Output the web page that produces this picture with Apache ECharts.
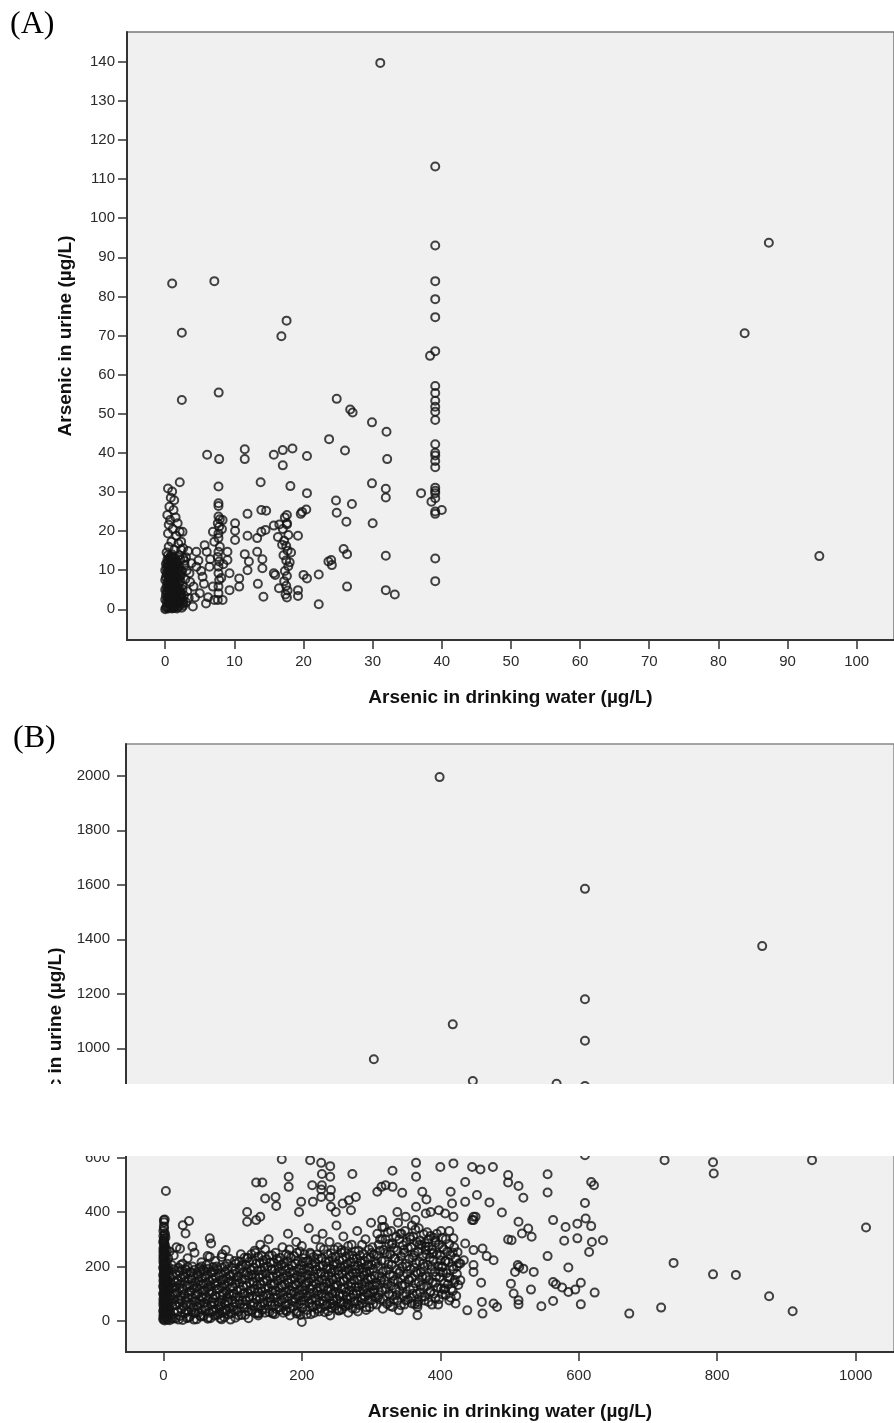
<!DOCTYPE html>
<html><head><meta charset="utf-8">
<script src="https://cdn.jsdelivr.net/npm/echarts@6/dist/echarts.min.js"></script>
<style>html,body{margin:0;padding:0;background:#fff}#c{width:894px;height:1423px}</style>
</head><body><div id="c"></div>
<script>
// ---------- tick labels ----------
const aXTicks = [0,10,20,30,40,50,60,70,80,90,100];
const aYTicks = [0,10,20,30,40,50,60,70,80,90,100,110,120,130,140];
const bXTicks = [0,200,400,600,800,1000];
const bYTicks = [0,200,400,600,800,1000,1200,1400,1600,1800,2000];
const xTitle = 'Arsenic in drinking water (µg/L)';
const yTitle = 'Arsenic in urine (µg/L)';

// ---------- Panel A (x: water, y: urine) ----------
const aOutliers = [[31.1,139.7],[87.3,93.7],[83.8,70.6],[94.6,13.6],[1.0,83.3],[7.1,83.9],[2.4,70.7],[17.55,73.8],[16.8,69.8],[2.4,53.5],[7.73,55.4],[38.3,64.8]];
const aCol39 = [[39.05,113.2],[39.05,93.0],[39.05,83.9],[39.05,79.3],[39.05,74.7],[39.05,66.0],[39.05,57.1],[39.05,55.3],[39.05,53.3],[39.05,51.8],[39.05,50.5],[39.05,48.4],[39.05,42.2],[39.05,40.0],[39.05,39.3],[39.05,37.9],[39.05,36.3],[39.05,31.1],[39.05,30.3],[39.05,29.7],[39.05,28.4],[39.05,25.0],[39.05,24.4],[39.05,13.0],[39.05,7.2],[37.0,29.7],[40.0,25.4],[38.5,27.5]];
const aMid = [[24.8,53.8],[26.75,51.1],[27.1,50.3],[29.9,47.8],[32.0,45.4],[23.7,43.5],[26.0,40.6],[32.1,38.4],[6.06,39.5],[7.8,38.4],[11.5,40.9],[11.5,38.4],[15.7,39.5],[17.0,40.7],[18.4,41.1],[17.0,36.8],[20.5,39.2],[2.1,32.5],[7.7,31.4],[13.8,32.5],[18.1,31.5],[20.5,29.7],[29.9,32.2],[31.9,30.8],[31.9,28.6],[24.7,27.8],[27.0,26.9],[24.8,24.7],[26.2,22.4],[30.0,22.0],[31.9,13.7],[26.3,5.8],[31.9,4.9],[33.2,3.8],[22.2,1.3],[25.8,15.4],[26.3,14.1],[24.0,12.6],[23.6,12.2],[24.1,11.3],[22.2,8.9],[20.0,8.8],[20.5,7.9],[19.6,24.4],[19.8,24.9],[20.4,25.5],[19.2,18.8],[11.9,24.4],[13.9,25.4],[14.6,25.2],[10.1,22.0],[10.1,20.1],[10.1,17.7],[11.9,18.8],[13.3,18.2],[13.9,19.8],[14.5,20.3],[15.7,21.4],[16.5,21.7],[17.6,21.7],[17.6,24.1],[13.3,14.7],[11.5,14.1],[12.1,12.2],[11.9,10.0],[14.05,12.8],[14.05,10.5],[15.7,9.2],[15.9,8.8],[13.4,6.5],[14.2,3.2],[16.45,5.4],[19.2,4.9],[19.2,3.4],[10.7,7.9],[10.7,5.8],[9.0,14.7],[9.0,12.6],[9.3,9.2],[9.3,4.9]];
const aCol8 = [[7.7,27.1],[7.7,26.4],[7.7,23.7],[7.9,23.0],[7.6,22.0],[7.8,21.1],[7.7,19.4],[7.7,18.2],[7.9,16.0],[7.7,14.7],[7.6,13.4],[7.8,12.2],[7.7,10.9],[7.7,9.2],[7.8,7.5],[7.7,5.8],[7.7,4.1],[7.6,2.4],[8.3,22.8],[8.2,20.5],[8.4,11.5],[8.1,8.0],[8.3,2.4],[6.9,19.8],[7.1,17.3],[5.7,16.4],[6.0,14.7],[6.4,10.9],[6.9,5.8],[7.1,2.4],[5.4,8.3],[4.5,14.7],[4.5,10.9],[3.8,11.8],[3.5,9.2],[4.1,5.8],[5.0,4.1],[5.9,1.5],[4.0,0.7],[2.6,1.5],[2.3,15.2],[2.3,17.3],[2.1,19.8],[3.0,13.3],[3.6,7.0],[4.3,3.0],[4.8,12.5],[5.2,9.8],[5.6,6.5],[6.2,3.1],[6.5,12.8],[3.3,14.9],[2.8,12.4]];
const aCol17 = [[17.3,23.5],[17.6,22.0],[17.0,20.5],[17.8,19.0],[17.2,17.5],[17.5,16.2],[17.7,15.0],[17.1,13.8],[17.5,12.5],[17.8,11.0],[17.3,9.8],[17.6,8.5],[17.2,7.2],[17.5,6.0],[17.7,4.8],[17.4,3.8],[17.6,3.0],[16.3,18.5],[16.9,16.5],[18.2,14.5],[18.0,12.0]];
const aCol0 = [[0.4,30.9],[1.0,30.1],[0.8,28.5],[1.3,27.9],[0.6,26.2],[1.2,25.4],[0.3,24.1],[1.5,23.5],[0.7,22.8],[1.8,22.0],[0.5,21.6],[1.1,20.5],[2.5,19.8],[0.4,19.4],[1.6,18.8],[0.9,17.3],[1.9,16.8],[0.5,16.0],[1.3,15.2],[2.6,15.6],[0.2,14.5],[1.0,14.0],[2.0,13.8],
[0.1,0.3],[0.3,0.8],[0.5,0.2],[0.7,1.1],[0.9,0.5],[1.1,0.9],[1.3,0.3],[1.5,1.4],[1.8,0.6],[2.1,1.0],[2.4,0.4],[0.2,1.9],[0.4,2.4],[0.6,1.7],[0.8,2.9],[1.0,2.2],[1.2,3.1],[1.4,2.5],[1.6,3.4],[1.9,2.0],[2.2,2.7],[2.6,2.2],[0.1,3.6],[0.3,4.2],[0.5,3.3],[0.7,4.8],[0.9,4.0],[1.1,5.1],[1.3,4.4],[1.5,5.6],[1.7,4.7],[2.0,5.3],[2.3,4.0],[2.7,3.6],[0.2,5.9],[0.4,6.5],[0.6,5.7],[0.8,7.1],[1.0,6.3],[1.2,7.5],[1.4,6.8],[1.6,7.9],[1.9,6.6],[2.2,7.2],[2.5,6.0],[0.1,8.2],[0.3,8.8],[0.5,7.9],[0.7,9.4],[0.9,8.6],[1.1,9.9],[1.3,9.1],[1.5,10.3],[1.8,9.5],[2.1,8.4],[2.4,9.8],[0.2,10.6],[0.4,11.2],[0.6,10.1],[0.8,11.8],[1.0,10.9],[1.2,12.3],[1.4,11.5],[1.7,12.0],[2.0,11.0],[0.3,12.6],[0.6,13.1],[0.9,12.8],[1.1,13.4],[0.1,11.6],[2.8,11.3],[3.0,1.8],[3.2,4.6],[2.9,7.7],[3.4,2.9],[3.1,9.9],[0.0,5.0],[0.0,2.5],[0.0,7.5],[0.0,10.0],[0.0,0.0]];
const aCol0b = [[0.2,0.6],[0.4,1.4],[0.6,0.7],[0.8,1.6],[1.0,0.2],[1.2,1.8],[1.4,0.8],[1.6,1.9],[1.7,0.2],[2.0,1.6],[2.3,1.8],[2.6,0.9],[0.3,3.0],[0.5,2.6],[0.7,3.5],[0.9,2.9],[1.1,3.7],[1.3,2.0],[1.5,3.0],[1.7,2.6],[2.0,3.4],[2.4,2.9],[0.2,4.6],[0.4,5.3],[0.6,4.4],[0.8,5.5],[1.0,4.7],[1.2,5.9],[1.4,5.0],[1.6,6.1],[1.8,5.4],[2.1,4.5],[2.5,5.1],[0.3,7.0],[0.5,6.8],[0.7,7.7],[0.9,7.3],[1.1,8.2],[1.3,7.9],[1.5,8.7],[1.7,8.1],[2.0,7.6],[2.3,8.8],[0.2,9.3],[0.4,9.9],[0.6,9.0],[0.8,10.4],[1.0,9.6],[1.2,10.6],[1.4,9.7],[1.6,11.1],[1.9,10.4],[2.2,10.0],[0.3,11.9],[0.5,12.2],[0.7,11.3],[1.0,12.0],[1.3,12.9],[1.5,12.3],[0.4,13.8],[0.8,13.6],[1.4,13.2],[2.2,12.6],[2.6,13.0]];

// ---------- Panel B ----------
const bOutliers = [[399,1995],[609,1585],[865,1375],[609,1180],[609,1028],[418,1088],[304,960],[447,880],[568,870],[609,862],
[724,590],[794,582],[795,541],[937,590],[1015,343],[737,213],[794,171],[827,169],[875,91],[909,36],[719,49],[673,27],[609,608]];
const bSparse = [[3.6,477],[0.7,370],[0.7,347],[28,351],[37,367],[32,321],[19,270],[42,272],[67,303],[69,284],[90,260],[84,235],[67,235],
[121,400],[121,364],[134,370],[140,382],[134,508],[143,508],[147,449],[162,455],[163,422],[171,593],[181,529],[181,492],[212,590],[228,580],[241,568],[229,539],[241,529],[229,498],[215,498],[228,482],[242,480],[241,455],[273,539],[199,437],[196,400],[216,437],[228,455],[242,419],[249,400],[259,431],[268,443],[278,455],[271,406],
[331,551],[365,580],[365,529],[400,565],[419,578],[446,565],[458,556],[309,474],[315,492],[321,498],[331,492],[345,470],[374,474],[380,446],[365,419],[386,400],[415,474],[417,431],[436,510],[436,437],[453,462],[338,400],[350,382],[364,370],[379,394],[398,406],[407,394],[419,382],[446,370],[451,382],[316,370],[316,345],
[429,149],[367,21],[200,-4],[439,39],[422,64],[407,119],[434,223],[436,284],[448,205],[400,223],[403,198],[429,211],[448,260],[419,303],[379,272],[379,260],[393,296],[388,247],[331,51],[340,39],[359,64],[367,51],[254,39],[266,64],[244,64],[192,27],[177,39],[158,27],[136,27],[81,27],[91,39],
[476,565],[498,535],[498,508],[513,495],[520,452],[555,538],[555,471],[618,510],[622,498],[609,433],[471,435],[489,398],[448,382],[448,370],[513,364],[527,339],[532,309],[518,321],[498,299],[503,296],[563,370],[581,345],[598,357],[610,376],[618,348],[579,294],[598,303],[619,290],[635,296],[615,253],[461,266],[467,238],[477,223],[555,238],[585,196],[512,205],[514,198],[520,192],[535,180],[508,180],[448,180],[459,140],[502,137],[506,101],[513,76],[513,61],[531,115],[563,143],[567,135],[576,123],[585,106],[595,115],[603,140],[623,104],[460,70],[477,64],[482,51],[461,27],[546,54],[563,73],[603,61]];
const bCol0 = [[0,5],[1,12],[0,20],[2,28],[0,35],[1,42],[3,50],[0,58],[2,65],[1,72],[0,80],[3,88],[1,95],[0,102],[2,110],[1,118],[0,125],[3,133],[1,140],[0,148],[2,155],[1,162],[0,170],[2,178],[1,186],[0,193],[3,200],[1,208],[0,216],[2,224],[1,232],[0,240],[2,250],[1,258],[0,266],[2,275],[1,284],[0,292],[1,302],[0,312],[2,322],[1,362],[2,372],[5,8],[6,30],[5,55],[6,75],[4,100],[6,122],[5,145],[4,168],[6,190],[5,215]];
const bCol0b = [[2,2],[0,9],[3,16],[1,24],[4,31],[0,38],[2,46],[1,54],[3,61],[0,68],[2,76],[1,84],[4,91],[0,98],[2,106],[3,114],[1,121],[0,129],[2,137],[4,144],[1,151],[3,158],[0,166],[2,174],[1,182],[3,190],[0,197],[2,204],[1,212],[3,220],[0,228],[2,236],[1,245],[0,254],[3,262],[1,270],[2,280],[0,288],[1,296],[3,306],[2,316],[0,330],[1,340],
[6,5],[7,20],[8,35],[6,50],[7,65],[8,82],[6,98],[7,110],[8,130],[6,150],[7,172],[8,195],[7,230],[9,255]];
const bLow = [[9,3],[11,22],[8,45],[12,68],[10,92],[9,115],[11,138],[10,160],[8,185],[12,205],
[18,10],[21,35],[19,58],[22,80],[20,104],[18,126],[21,150],[19,172],[22,195],
[28,4],[31,28],[29,52],[32,75],[30,98],[28,120],[31,144],[29,168],[32,190],[28,210],
[38,15],[41,40],[39,62],[42,86],[40,110],[38,132],[41,155],[39,178],[42,200],
[48,6],[51,30],[49,54],[52,78],[50,100],[48,124],[51,146],[49,170],[52,194],
[58,18],[61,42],[59,66],[62,90],[60,112],[58,136],[61,160],[59,182],[62,205],
[68,10],[71,35],[69,58],[72,82],[70,106],[68,128],[71,152],[69,176],[72,198],
[78,22],[81,46],[79,70],[82,94],[80,118],[78,140],[81,165],[79,188],
[88,14],[91,38],[89,62],[92,86],[90,110],[88,134],[91,158],[89,180],[92,210],
[98,28],[101,52],[99,76],[102,100],[100,124],[98,148],[101,172],[99,196],
[15,240],[24,265],[35,230],[45,250],[55,215],[64,238],[75,220],[85,245],[95,228]];
const bLow2 = [[14,8],[16,30],[13,55],[15,78],[17,100],[14,122],[16,145],[13,168],[15,190],
[24,18],[26,42],[23,66],[25,90],[27,112],[24,135],[26,158],[23,182],[25,205],
[34,10],[36,35],[33,60],[35,84],[37,106],[34,128],[36,152],[33,175],[35,198],
[44,5],[46,28],[43,50],[45,72],[47,96],[44,118],[46,142],[43,165],[45,188],
[54,16],[56,40],[53,64],[55,88],[57,110],[54,134],[56,158],[53,180],[55,200],
[64,8],[66,30],[63,54],[65,78],[67,100],[64,122],[66,146],[63,170],[65,192],
[74,20],[76,44],[73,68],[75,92],[77,116],[74,138],[76,162],[73,186],
[84,6],[86,30],[83,54],[85,78],[87,102],[84,126],[86,150],[83,172],[85,196],
[94,24],[96,48],[93,72],[95,96],[97,120],[94,144],[96,168],[93,190],
[104,12],[106,40],[103,64],[105,88],[107,112],[104,136],[106,160],[103,184],[105,210]];
const bFill1 = [[3,180],[5,260],[12,12],[13,95],[17,60],[19,140],[22,5],[23,118],[26,75],[27,188],[31,160],[33,40],[36,12],[37,95],[40,180],[43,130],[44,30],[47,70],[50,160],[52,115],[53,20],[57,85],[58,190],[60,50],[62,140],[65,12],[66,110],[70,70],[71,180],[73,38],[76,130],[77,200],[80,60],[82,10],[83,150],[86,95],[88,40],[89,200],[92,130],[94,70],[97,5],[97,165],[100,100],[102,40],[103,220]];
const bMid = [[108,35],[111,62],[109,88],[112,115],[110,140],[108,165],[111,192],[109,218],[112,245],
[118,22],[121,48],[119,75],[122,102],[120,128],[118,152],[121,178],[119,205],[122,232],
[128,40],[131,66],[129,92],[132,118],[130,145],[128,170],[131,196],[129,222],[132,258],
[138,28],[141,55],[139,80],[142,108],[140,134],[138,160],[141,186],[139,212],[142,240],[140,280],
[148,45],[151,70],[149,96],[152,122],[150,148],[148,175],[151,200],[149,226],[152,300],
[158,30],[161,58],[159,84],[162,110],[160,136],[158,162],[161,188],[159,214],[162,250],
[168,50],[171,76],[169,102],[172,128],[170,154],[168,180],[171,206],[169,232],[172,270],
[178,35],[181,62],[179,88],[182,114],[180,140],[178,166],[181,192],[179,218],[182,262],[180,320],
[188,55],[191,80],[189,106],[192,132],[190,158],[188,184],[191,210],[189,238],[192,290],
[198,22],[201,48],[199,74],[202,100],[200,126],[198,152],[201,178],[199,204],[202,230],[200,275],
[208,40],[211,66],[209,92],[212,118],[210,144],[208,170],[211,196],[209,222],[212,250],[210,340],
[218,30],[221,58],[219,84],[222,110],[220,136],[218,162],[221,188],[219,214],[222,244],[220,300],
[228,48],[231,74],[229,100],[232,126],[230,152],[228,178],[231,204],[229,230],[232,262],[230,320],
[238,36],[241,62],[239,88],[242,114],[240,140],[238,166],[241,192],[239,218],[242,248],[240,290],
[248,55],[251,80],[249,106],[252,132],[250,158],[248,184],[251,210],[249,236],[252,270],[250,350],
[258,42],[261,68],[259,94],[262,120],[260,146],[258,172],[261,198],[259,224],[262,256],[260,310],
[268,60],[271,86],[269,112],[272,138],[270,164],[268,190],[271,216],[269,242],[272,280],
[278,45],[281,72],[279,98],[282,124],[280,150],[278,176],[281,202],[279,228],[282,258],[280,330],
[288,65],[291,90],[289,116],[292,142],[290,168],[288,194],[291,220],[289,246],[292,300],
[298,50],[301,76],[299,102],[302,128],[300,154],[298,180],[301,206],[299,232],[302,270],[300,360]];
const bMid2 = [[113,22],[116,48],[114,75],[117,102],[115,128],[113,152],[116,180],[114,205],[117,232],
[123,35],[126,60],[124,88],[127,114],[125,140],[123,165],[126,190],[124,218],[127,245],
[133,28],[136,54],[134,80],[137,106],[135,132],[133,158],[136,184],[134,210],[137,236],
[143,40],[146,66],[144,92],[147,118],[145,145],[143,170],[146,196],[144,222],[147,262],
[153,32],[156,58],[154,84],[157,110],[155,136],[153,162],[156,188],[154,214],[157,240],
[163,44],[166,70],[164,96],[167,122],[165,148],[163,174],[166,200],[164,228],
[173,30],[176,56],[174,82],[177,108],[175,134],[173,160],[176,186],[174,212],[177,245],
[183,48],[186,74],[184,100],[187,126],[185,152],[183,178],[186,204],[184,232],
[193,35],[196,62],[194,88],[197,114],[195,140],[193,166],[196,192],[194,220],[197,255],
[203,60],[206,86],[204,112],[207,138],[205,164],[203,190],[206,216],[204,245],
[213,25],[216,52],[214,78],[217,104],[215,130],[213,156],[216,182],[214,208],[217,235],
[223,44],[226,70],[224,96],[227,122],[225,148],[223,174],[226,200],[224,228],[227,270],
[233,32],[236,60],[234,86],[237,112],[235,138],[233,164],[236,190],[234,216],[237,245],
[243,48],[246,74],[244,100],[247,126],[245,152],[243,178],[246,204],[244,232],[247,262],
[253,38],[256,66],[254,92],[257,118],[255,144],[253,170],[256,196],[254,222],[257,250],
[263,54],[266,80],[264,106],[267,132],[265,158],[263,184],[266,210],[264,236],[267,275],
[273,46],[276,72],[274,98],[277,124],[275,150],[273,176],[276,202],[274,228],[277,255],
[283,58],[286,84],[284,110],[287,136],[285,162],[283,188],[286,214],[284,240],[287,280],
[293,50],[296,76],[294,102],[297,128],[295,154],[293,180],[296,206],[294,232],[297,262],
[303,62],[306,88],[304,114],[307,140],[305,166],[303,192],[306,218],[304,245]];
const bFill2 = [[106,150],[109,20],[110,75],[112,200],[115,100],[117,60],[119,170],[121,230],[123,10],[125,110],[127,185],[129,55],[131,140],[133,250],[135,90],[137,20],[139,170],[141,120],[143,65],[145,210],[147,30],[149,155],[151,100],[153,240],[155,70],[157,190],[159,130],[161,25],[163,85],[165,165],[167,220],[169,40],[171,130],[173,95],[175,200],[177,60],[179,150],[181,240],[183,20],[185,110],[187,175],[189,70],[191,135],[193,250],[195,30],[197,95],[199,160],[201,215],[203,75],[205,130],[207,25],[209,185],[211,100],[213,245],[215,55],[217,145],[219,200],[221,75],[223,120],[225,35],[227,175],[229,230],[231,90],[233,150],[235,55],[237,200],[239,120],[241,20],[243,160],[245,80],[247,215],[249,130],[251,45],[253,185],[255,100],[257,260],[259,60],[261,150],[263,205],[265,90],[267,30],[269,170],[271,125],[273,240],[275,65],[277,190],[279,110],[281,35],[283,150],[285,220],[287,80],[289,180],[291,125],[293,40],[295,200],[297,95],[299,160],[301,250],[303,105]];
const bHigh = [[308,60],[311,95],[309,130],[312,165],[310,200],[308,240],[311,280],[309,320],
[318,80],[321,115],[319,150],[322,185],[320,222],[318,260],[321,300],[319,345],
[328,55],[331,92],[329,128],[332,165],[330,205],[328,245],[331,285],[329,330],
[338,75],[341,110],[339,145],[342,182],[340,220],[338,258],[341,300],[339,360],
[348,60],[351,98],[349,135],[352,172],[350,210],[348,250],[351,290],[349,330],
[358,85],[361,120],[359,158],[362,195],[360,232],[358,270],[361,310],[359,350],
[368,70],[371,105],[369,142],[372,180],[370,218],[368,255],[371,295],[369,340],
[378,90],[381,128],[379,165],[382,205],[380,245],[378,285],[381,325],
[388,60],[391,100],[389,140],[392,180],[390,222],[388,262],[391,305],
[398,80],[401,120],[399,160],[402,200],[400,240],[398,280],[401,330],
[408,95],[411,135],[409,175],[412,215],[410,255],[408,300],
[418,110],[421,150],[419,190],[422,230],[420,270]];
const bHigh2 = [[313,78],[316,112],[314,148],[317,182],[315,220],[313,258],[316,300],
[323,62],[326,98],[324,135],[327,170],[325,208],[323,245],[326,282],[324,325],
[333,80],[336,115],[334,150],[337,188],[335,228],[333,268],[336,310],
[343,58],[346,92],[344,128],[347,165],[345,200],[343,238],[346,278],[344,320],
[353,78],[356,115],[354,152],[357,190],[355,228],[353,268],[356,308],
[363,62],[366,100],[364,138],[367,175],[365,212],[363,250],[366,290],[364,335],
[373,88],[376,125],[374,162],[377,200],[375,238],[373,278],[376,318],
[383,70],[386,110],[384,150],[387,190],[385,232],[383,272],[386,312],
[393,82],[396,122],[394,162],[397,202],[395,244],[393,288],
[403,98],[406,138],[404,178],[407,220],[405,262],[403,305],
[413,75],[416,118],[414,158],[417,200],[415,240],[413,282],
[423,92],[426,132],[424,172],[427,212],[425,252]];
const bFill3 = [[305,130],[307,210],[310,85],[313,300],[315,160],[317,45],[320,250],[322,120],[325,190],[327,70],[330,280],[332,145],[334,230],[337,95],[340,175],[342,320],[345,130],[347,260],[350,75],[352,200],[355,150],[357,300],[360,100],[362,240],[365,180],[367,60],[370,280],[372,130],[375,210],[377,75],[380,160],[383,300],[385,105],[388,200],[390,250],[393,140],[395,320],[397,60],[400,180],[403,270],[405,115],[408,220],[411,160],[413,330],[415,85],[418,250],[420,140],[424,200]];

const aData = [].concat(aOutliers, aCol39, aMid, aCol8, aCol17, aCol0, aCol0b);
const bData = [].concat(bOutliers, bSparse, bCol0, bCol0b, bLow, bLow2, bFill1, bMid, bMid2, bFill2, bHigh, bHigh2, bFill3);

const FONT = "'Liberation Sans', Arial, sans-serif";
const tickStyle = {fontFamily: FONT, fontSize: 15, color: '#2a2a2a'};
const nameStyle = {fontFamily: FONT, fontSize: 19, fontWeight: 'bold', color: '#111'};

function makeAxis(gridIndex, min, max, ticks, name, nameGap, labelMargin) {
  return {
    type: 'value', gridIndex, min, max,
    name, nameLocation: 'middle', nameGap, nameTextStyle: nameStyle,
    axisLine: {show: true, onZero: false, lineStyle: {color: '#333', width: 2}},
    axisTick: {show: true, customValues: ticks, length: 9, lineStyle: {color: '#333', width: 1.5}},
    axisLabel: Object.assign({customValues: ticks, margin: labelMargin, formatter: v => String(v)}, tickStyle),
    splitLine: {show: false}
  };
}

const chart = echarts.init(document.getElementById('c'), null, {renderer: 'canvas'});
const symbolStyle = {color: 'rgba(0,0,0,0)', borderColor: '#141414', borderWidth: 2};
chart.setOption({
  animation: false,
  backgroundColor: '#fff',
  grid: [
    {left: 127, top: 32, width: 772, height: 608, show: true, backgroundColor: '#f0f0f0', borderColor: '#777', borderWidth: 1.5},
    {left: 126, top: 744, width: 771, height: 608, show: true, backgroundColor: '#f0f0f0', borderColor: '#888', borderWidth: 1.5}
  ],
  xAxis: [
    makeAxis(0, -5.53, 105.4, aXTicks, xTitle, 48, 14),
    makeAxis(1, -54, 1055.4, bXTicks, xTitle, 50, 16)
  ],
  yAxis: [
    makeAxis(0, -7.85, 147.6, aYTicks, yTitle, 52, 12),
    makeAxis(1, -113.8, 2116.4, bYTicks, yTitle, 55, 16)
  ],
  series: [
    {type: 'scatter', xAxisIndex: 0, yAxisIndex: 0, data: aData, symbol: 'circle', symbolSize: 8, itemStyle: symbolStyle, silent: true},
    {type: 'scatter', xAxisIndex: 1, yAxisIndex: 1, data: bData, symbol: 'circle', symbolSize: 8, itemStyle: symbolStyle, silent: true}
  ],
  graphic: [
    {type: 'text', left: 10, top: 9, z: 100, style: {text: '(A)', font: "32px 'Liberation Serif', 'Times New Roman', serif", fill: '#000'}},
    {type: 'text', left: 13, top: 723, z: 100, style: {text: '(B)', font: "32px 'Liberation Serif', 'Times New Roman', serif", fill: '#000'}},
    {type: 'rect', left: 0, top: 1084, z: 100, shape: {width: 894, height: 72}, style: {fill: '#fff'}}
  ]
});
</script></body></html>
